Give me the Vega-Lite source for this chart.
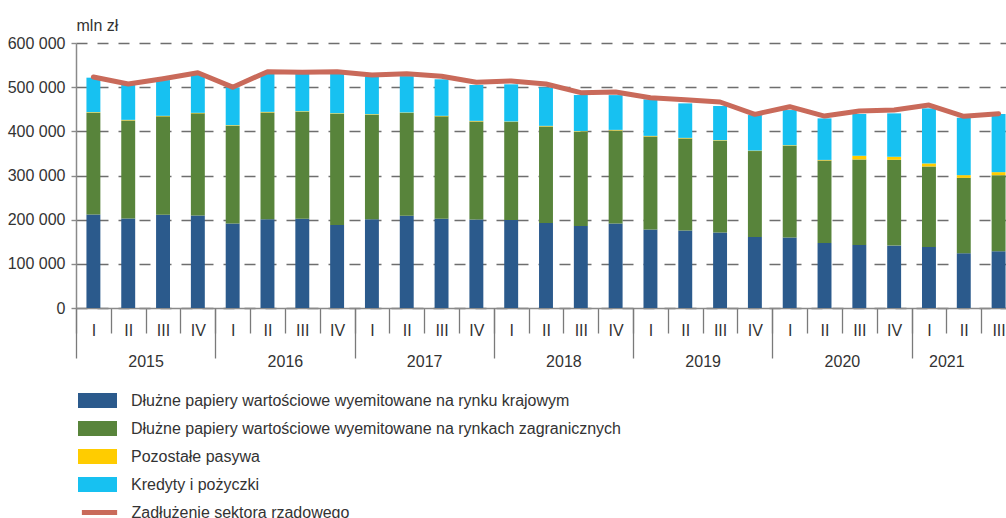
{
  "$schema": "https://vega.github.io/schema/vega-lite/v6.json",
  "width": 930,
  "height": 265,
  "autosize": {"type": "none"},
  "padding": {"left": 76, "top": 43, "right": 0, "bottom": 210},
  "background": "white",
  "config": {
    "view": {"stroke": null},
    "font": "Liberation Sans",
    "axis": {"labelFont": "Liberation Sans", "titleFont": "Liberation Sans"},
    "legend": {"labelFont": "Liberation Sans"}
  },
  "data": {
    "values": [
      {"q": "2015-I", "A": 211600, "B": 230600, "C": 1200, "D": 78100, "t": 523000},
      {"q": "2015-II", "A": 202600, "B": 222200, "C": 1200, "D": 79000, "t": 507000},
      {"q": "2015-III", "A": 210900, "B": 223000, "C": 1200, "D": 80900, "t": 519000},
      {"q": "2015-IV", "A": 209400, "B": 231300, "C": 1200, "D": 85700, "t": 532500},
      {"q": "2016-I", "A": 191200, "B": 221500, "C": 1200, "D": 85700, "t": 500000},
      {"q": "2016-II", "A": 201100, "B": 241800, "C": 1200, "D": 86900, "t": 535000},
      {"q": "2016-III", "A": 201800, "B": 242600, "C": 1200, "D": 87400, "t": 534000},
      {"q": "2016-IV", "A": 188200, "B": 251700, "C": 1200, "D": 91900, "t": 535000},
      {"q": "2017-I", "A": 201100, "B": 236500, "C": 1200, "D": 85000, "t": 527600},
      {"q": "2017-II", "A": 208600, "B": 232800, "C": 1200, "D": 82400, "t": 530600},
      {"q": "2017-III", "A": 201800, "B": 232100, "C": 1200, "D": 82700, "t": 524600},
      {"q": "2017-IV", "A": 200300, "B": 222200, "C": 1200, "D": 81300, "t": 511000},
      {"q": "2018-I", "A": 199500, "B": 221500, "C": 1200, "D": 84200, "t": 514000},
      {"q": "2018-II", "A": 192700, "B": 218500, "C": 1200, "D": 87200, "t": 507200},
      {"q": "2018-III", "A": 185900, "B": 213200, "C": 1200, "D": 81900, "t": 487500},
      {"q": "2018-IV", "A": 191200, "B": 210900, "C": 1200, "D": 78700, "t": 489000},
      {"q": "2019-I", "A": 177600, "B": 210900, "C": 1200, "D": 82700, "t": 476200},
      {"q": "2019-II", "A": 175400, "B": 208600, "C": 1200, "D": 78100, "t": 471600},
      {"q": "2019-III", "A": 170800, "B": 207900, "C": 1200, "D": 77400, "t": 466400},
      {"q": "2019-IV", "A": 161000, "B": 194200, "C": 1200, "D": 80500, "t": 438400},
      {"q": "2020-I", "A": 159500, "B": 207800, "C": 1200, "D": 79700, "t": 455800},
      {"q": "2020-II", "A": 147400, "B": 186700, "C": 1200, "D": 94000, "t": 434600},
      {"q": "2020-III", "A": 142900, "B": 193500, "C": 8300, "D": 94500, "t": 446000},
      {"q": "2020-IV", "A": 141300, "B": 194300, "C": 6800, "D": 98300, "t": 448200},
      {"q": "2021-I", "A": 138300, "B": 182200, "C": 6800, "D": 124700, "t": 459600},
      {"q": "2021-II", "A": 124000, "B": 170800, "C": 6000, "D": 130000, "t": 433900},
      {"q": "2021-III", "A": 128500, "B": 172300, "C": 6800, "D": 131600, "t": 439900}
    ]
  },
  "layer": [
    {
      "transform": [{"fold": ["A", "B", "C", "D"], "as": ["key", "val"]}],
      "mark": {"type": "bar", "width": {"band": 0.4}},
      "encoding": {
        "x": {
          "field": "q", "type": "ordinal", "sort": null,
          "scale": {"range": [0, 940], "paddingInner": 0, "paddingOuter": 0},
          "axis": {
            "title": null, "orient": "bottom", "tickBand": "extent", "tickSize": 25,
            "tickColor": "#7a7a7a", "tickWidth": 1.3, "domainColor": "#8a8a8a", "domainWidth": 1.5,
            "labelExpr": "split(datum.value, '-')[1]", "labelFontSize": 16, "labelColor": "#333333",
            "labelPadding": -11, "labelAngle": 0, "labelOverlap": false, "labelBound": false, "grid": false
          }
        },
        "y": {
          "field": "val", "type": "quantitative", "stack": "zero",
          "scale": {"domain": [0, 600000], "nice": false},
          "axis": {
            "title": "mln zł", "titleAngle": 0, "titleAlign": "left", "titleBaseline": "alphabetic",
            "titleX": 0, "titleY": -13, "titleFontSize": 16, "titleFontWeight": "normal", "titleColor": "#333333",
            "values": [0, 100000, 200000, 300000, 400000, 500000, 600000],
            "labelExpr": "replace(format(datum.value, ','), ',', ' ')",
            "labelFontSize": 16, "labelColor": "#333333", "labelPadding": 6,
            "grid": true, "gridDash": [11, 10], "gridColor": "#6e6e6e", "gridWidth": 1.4,
            "domainColor": "#8a8a8a", "domainWidth": 1.5, "tickColor": "#8a8a8a", "tickSize": 5, "tickWidth": 1.4
          }
        },
        "order": {"field": "key", "sort": "ascending"},
        "color": {
          "field": "key", "type": "nominal",
          "scale": {"domain": ["A", "B", "C", "D"], "range": ["#2b5a8c", "#58843b", "#ffcc00", "#17c1f1"]},
          "legend": {
            "orient": "none", "legendX": 1.5, "legendY": 349.5, "direction": "vertical", "title": null,
            "padding": 0, "rowPadding": 12, "symbolSize": 225, "labelOffset": 37.5, "labelFontSize": 16,
            "labelColor": "#333333", "labelLimit": 0, "symbolStrokeWidth": 0,
            "symbolType": "M-1,-1H4.2V1H-1Z",
            "labelExpr": "datum.value === 'A' ? 'Dłużne papiery wartościowe wyemitowane na rynku krajowym' : datum.value === 'B' ? 'Dłużne papiery wartościowe wyemitowane na rynkach zagranicznych' : datum.value === 'C' ? 'Pozostałe pasywa' : 'Kredyty i pożyczki'"
          }
        }
      }
    },
    {
      "transform": [{"fold": ["t"], "as": ["series", "total"]}],
      "mark": {"type": "line", "strokeWidth": 5, "strokeCap": "round", "strokeJoin": "round"},
      "encoding": {
        "x": {
          "field": "q", "type": "ordinal", "sort": null,
          "axis": {
            "title": null, "orient": "bottom", "tickBand": "extent", "tickSize": 50, "domain": false,
            "tickColor": "#7a7a7a", "tickWidth": 1.3,
            "tickOpacity": {"expr": "datum.extra || test(/-IV$/, datum.value) ? 1 : 0"},
            "labelExpr": "(test(/-II$/, datum.value) && !test(/^2021/, datum.value)) || datum.value === '2021-I' ? slice(datum.value, 0, 4) : ''",
            "labelOffset": 17.4, "labelPadding": -5, "labelFontSize": 16, "labelColor": "#333333",
            "labelAngle": 0, "labelOverlap": false, "labelBound": false, "grid": false
          }
        },
        "y": {"field": "total", "type": "quantitative"},
        "stroke": {
          "field": "series", "type": "nominal",
          "scale": {"domain": ["t"], "range": ["#c96a5a"]},
          "legend": {
            "orient": "none", "legendX": 1.5, "legendY": 459.5, "direction": "vertical", "title": null,
            "padding": 0, "symbolSize": 225, "labelOffset": 34, "labelFontSize": 16,
            "labelColor": "#333333", "labelLimit": 0, "symbolStrokeWidth": 5,
            "symbolType": "M-0.75,0H3.95",
            "labelExpr": "'Zadłużenie sektora rządowego'"
          }
        }
      }
    }
  ],
  "resolve": {"axis": {"x": "independent"}}
}
